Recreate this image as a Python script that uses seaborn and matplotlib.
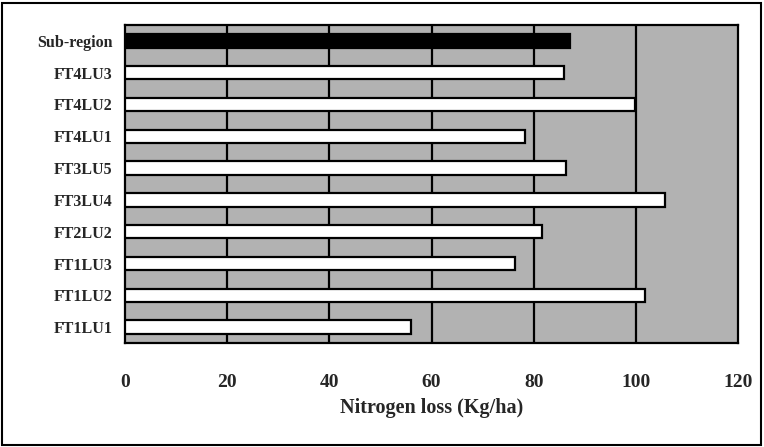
import matplotlib
matplotlib.use("Agg")
import matplotlib.pyplot as plt
import seaborn as sns
import pandas as pd
from matplotlib.patches import Rectangle

categories = ["Sub-region", "FT4LU3", "FT4LU2", "FT4LU1", "FT3LU5",
              "FT3LU4", "FT2LU2", "FT1LU3", "FT1LU2", "FT1LU1"]
values = [87.2, 85.9, 99.8, 78.4, 86.3, 105.7, 81.6, 76.3, 101.8, 56.0]
xticks = [0, 20, 40, 60, 80, 100, 120]
xlabel = "Nitrogen loss (Kg/ha)"

sns.set_style("white")
plt.rcParams["font.family"] = ["Liberation Serif", "DejaVu Serif"]

df = pd.DataFrame({"cat": categories, "val": values})
colors = ["black"] + ["white"] * (len(categories) - 1)

fig = plt.figure(figsize=(7.64, 4.47), dpi=100)
ax = fig.add_axes([125/764, 1-343/447, (738-125)/764, (343-25)/447])
ax.set_facecolor("#b2b2b2")

sns.barplot(data=df, x="val", y="cat", hue="cat", palette=colors, legend=False,
            order=categories, hue_order=categories, width=0.42,
            edgecolor="black", linewidth=1.6, ax=ax, zorder=3)

ax.set_xlim(0, 120)
ax.set_ylim(len(categories) - 0.5, -0.5)
ax.set_xticks(xticks)
ax.set_xticklabels([str(t) for t in xticks], fontsize=14, fontweight="bold")
ax.set_yticks(range(len(categories)))
ax.set_yticklabels(categories, fontsize=11.5, fontweight="bold")
for t in [20, 40, 60, 80, 100]:
    ax.axvline(t, color="black", lw=1.6, zorder=2)
ax.tick_params(axis="x", length=0, pad=22)
ax.tick_params(axis="y", length=0, pad=9)
ax.set_xlabel(xlabel, fontsize=14.5, fontweight="bold", labelpad=5)
ax.set_ylabel("")
for s in ax.spines.values():
    s.set_visible(True)
    s.set_color("black")
    s.set_linewidth(1.6)

fig.patches.append(Rectangle((2/764, 2/447), 759/764, 442/447, transform=fig.transFigure,
                             fill=False, edgecolor="black", lw=1.5))
fig.savefig("out.png", dpi=100)
